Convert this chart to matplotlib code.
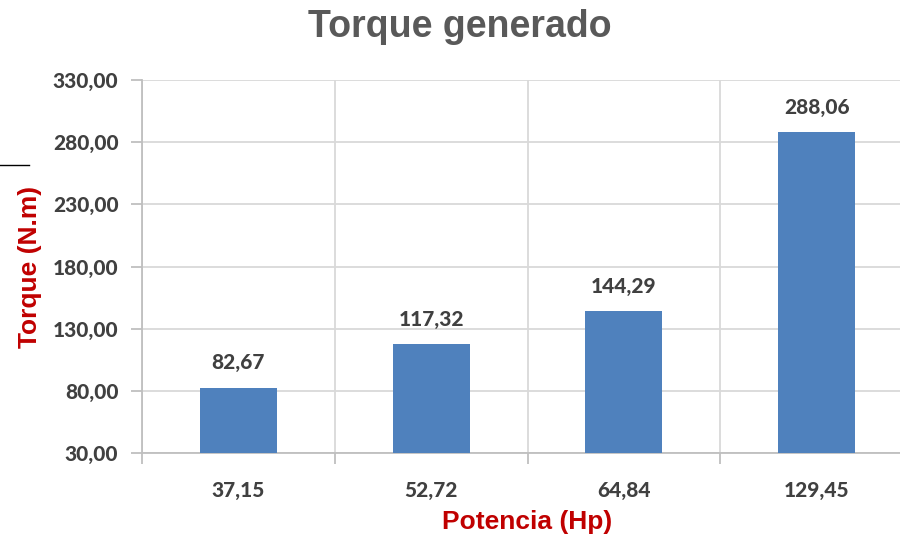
import matplotlib.pyplot as plt
from matplotlib.lines import Line2D
import numpy as np

# data
potencia = ["37,15", "52,72", "64,84", "129,45"]
torque = [82.67, 117.32, 144.29, 288.06]
y_ticks = [30, 80, 130, 180, 230, 280, 330]

bar_color = "#4F81BD"
grid_color = "#D9D9D9"
text_color = "#404040"
red = "#C00000"
tick_font = dict(family="Lato", fontweight=900, fontsize=15, color=text_color)

fig = plt.figure(figsize=(9, 5.38), dpi=100)
ax = fig.add_axes([142 / 900, (538 - 453) / 538, 771 / 900, 373 / 538])

x = np.arange(len(potencia))
ax.bar(x, torque, width=0.4, color=bar_color, zorder=3)

ax.set_ylim(30, 330)
ax.set_xlim(-0.5, len(potencia) - 0.5)
ax.set_yticks(y_ticks)
ax.set_yticklabels([f"{v:.2f}".replace(".", ",") for v in y_ticks], **tick_font)
ax.set_xticks(x)
ax.set_xticklabels(potencia, **tick_font)

# gridlines: horizontal at ticks, vertical at category boundaries
ax.yaxis.grid(True, color=grid_color, linewidth=1.3, zorder=0)
for b in np.arange(-0.5, len(potencia), 1.0):
    ax.axvline(b, color=grid_color, linewidth=1.3, zorder=0)

for s in ["top", "right"]:
    ax.spines[s].set_visible(False)
ax.spines["left"].set_color("#BFBFBF")
ax.spines["bottom"].set_color("#BFBFBF")
ax.spines["left"].set_linewidth(1.3)
ax.spines["bottom"].set_linewidth(1.3)

ax.tick_params(axis="y", length=8, width=1.3, color="#BFBFBF", pad=9)
ax.tick_params(axis="x", length=0, pad=20)
# x ticks at category boundaries
ax.set_xticks(np.arange(-0.5, len(potencia), 1.0), minor=True)
ax.tick_params(axis="x", which="minor", length=8, width=1.3, color="#BFBFBF")

for xi, v in zip(x, torque):
    ax.annotate(f"{v:.2f}".replace(".", ","), (xi, v), xytext=(0, 11),
                textcoords="offset points", ha="center", va="bottom", **tick_font)

fig.text(460 / 900, 1 - 27 / 538, "Torque generado", ha="center", va="center",
         family="Liberation Sans", fontweight="bold", fontsize=27, color="#595959")
fig.text(30 / 900, 1 - 267 / 538, "Torque (N.m)", ha="center", va="center", rotation=90,
         family="Liberation Sans", fontweight="bold", fontsize=19, color=red)
fig.text(527 / 900, 1 - 522 / 538, "Potencia (Hp)", ha="center", va="center",
         family="Liberation Sans", fontweight="bold", fontsize=19, color=red)

# small stray line at left edge
fig.add_artist(Line2D([0, 29 / 900], [1 - 165 / 538, 1 - 165 / 538], color="black", linewidth=1))

fig.savefig("out.png", dpi=100)
